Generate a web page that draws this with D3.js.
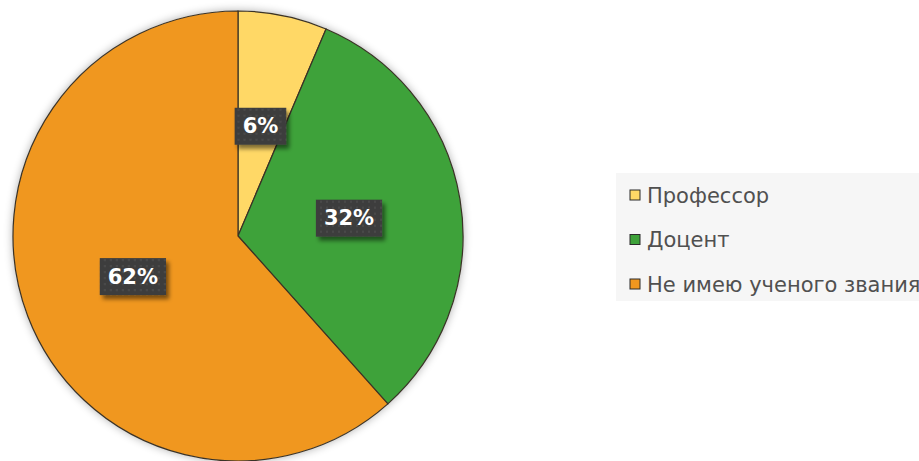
<!DOCTYPE html>
<html>
<head>
<meta charset="utf-8">
<script src="https://cdn.jsdelivr.net/npm/d3@7"></script>
<style>
body { margin: 0; background: #fff; }
svg { display: block; }
</style>
</head>
<body>
<svg width="919" height="461"></svg>
<script>
var categories = ['Профессор', 'Доцент', 'Не имею ученого звания']
var values = [6.4, 32.0, 61.6]
var labels = ['6%', '32%', '62%']
var colors = ['#FFD866', '#3EA23A', '#F0971F']

var svg = d3.select('svg')
var cx = 238, cy = 236, radius = 225

var defs = svg.append('defs')
var shadow = defs.append('filter').attr('id', 'pieShadow')
    .attr('x', '-10%').attr('y', '-10%').attr('width', '120%').attr('height', '120%')
shadow.append('feGaussianBlur').attr('in', 'SourceAlpha').attr('stdDeviation', 5)
shadow.append('feOffset').attr('dx', 0).attr('dy', 0).attr('result', 'blur')
shadow.append('feComponentTransfer').append('feFuncA').attr('type', 'linear').attr('slope', 0.35)
var merge = shadow.append('feMerge')
merge.append('feMergeNode')
merge.append('feMergeNode').attr('in', 'SourceGraphic')

var boxShadow = defs.append('filter').attr('id', 'boxShadow')
    .attr('x', '-20%').attr('y', '-20%').attr('width', '150%').attr('height', '160%')
boxShadow.append('feGaussianBlur').attr('in', 'SourceAlpha').attr('stdDeviation', 2)
boxShadow.append('feOffset').attr('dx', 3).attr('dy', 4).attr('result', 'off')
boxShadow.append('feComponentTransfer').append('feFuncA').attr('type', 'linear').attr('slope', 0.5)
var m2 = boxShadow.append('feMerge')
m2.append('feMergeNode')
m2.append('feMergeNode').attr('in', 'SourceGraphic')

var pat = defs.append('pattern').attr('id', 'dots')
    .attr('width', 6).attr('height', 6).attr('patternUnits', 'userSpaceOnUse')
pat.append('rect').attr('width', 6).attr('height', 6).attr('fill', '#3e3e3e')
pat.append('rect').attr('x', 1).attr('y', 1).attr('width', 2).attr('height', 2).attr('fill', '#4a4a4a')

var pie = d3.pie().sort(null).value(function(d){ return d })
var arcs = pie(values)
var arc = d3.arc().innerRadius(0).outerRadius(radius)
var labelArc = d3.arc().innerRadius(radius * 0.5).outerRadius(radius * 0.5)

var g = svg.append('g').attr('transform', 'translate(' + cx + ',' + cy + ')')

g.append('circle').attr('r', radius).attr('fill', '#fff').attr('filter', 'url(#pieShadow)')

g.selectAll('path.slice')
    .data(arcs)
    .enter()
    .append('path')
    .attr('class', 'slice')
    .attr('d', arc)
    .attr('fill', function(d, i){ return colors[i] })
    .attr('stroke', '#3a3226')
    .attr('stroke-width', 1.2)

var lab = g.selectAll('g.lab')
    .data(arcs)
    .enter()
    .append('g')
    .attr('class', 'lab')
    .attr('transform', function(d){ return 'translate(' + labelArc.centroid(d) + ')' })

lab.append('text')
    .text(function(d, i){ return labels[i] })
    .attr('text-anchor', 'middle')
    .attr('dy', '0.36em')
    .attr('font-family', 'DejaVu Sans, sans-serif')
    .attr('font-weight', 'bold')
    .attr('font-size', 21)
    .attr('fill', '#fff')
    .each(function(){
        var bb = this.getBBox()
        d3.select(this.parentNode).insert('rect', 'text')
            .attr('x', bb.x - 8)
            .attr('y', -18)
            .attr('width', bb.width + 16)
            .attr('height', 37)
            .attr('fill', 'url(#dots)')
            .attr('filter', 'url(#boxShadow)')
    })

// legend
var legend = svg.append('g')
legend.append('rect')
    .attr('x', 616).attr('y', 173).attr('width', 303).attr('height', 128)
    .attr('fill', '#f6f6f6')

var rowY = d3.scalePoint().domain(categories).range([195, 284])

var item = legend.selectAll('g.item')
    .data(categories)
    .enter()
    .append('g')
    .attr('class', 'item')
    .attr('transform', function(d){ return 'translate(630,' + rowY(d) + ')' })

item.append('rect')
    .attr('x', 0).attr('y', -5).attr('width', 10).attr('height', 10)
    .attr('fill', function(d, i){ return colors[i] })
    .attr('stroke', '#2b2b2b')
    .attr('stroke-width', 1)

item.append('text')
    .text(function(d){ return d })
    .attr('x', 17)
    .attr('dy', '0.36em')
    .attr('font-family', 'DejaVu Sans, sans-serif')
    .attr('font-size', 21)
    .attr('fill', '#505050')
</script>
</body>
</html>
